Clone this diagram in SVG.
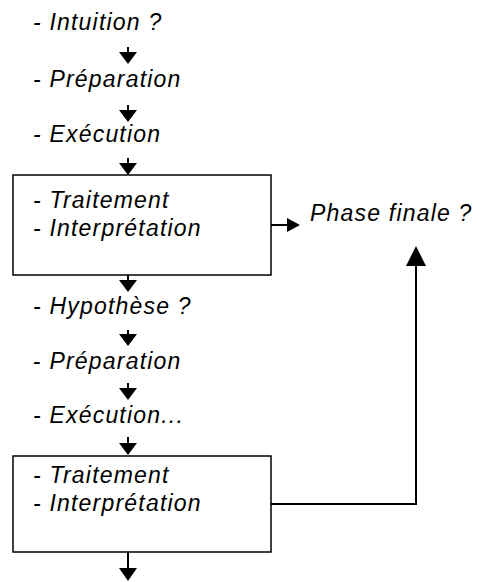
<svg xmlns="http://www.w3.org/2000/svg" width="483" height="582" viewBox="0 0 483 582">
<style>
.t{font-family:"Liberation Sans",Arial,sans-serif;font-style:italic;font-size:23px;letter-spacing:1.2px;fill:#000}
.box{fill:#fff;stroke:#000;stroke-width:1.5}
.ln{fill:none;stroke:#000;stroke-width:2}
.hd{fill:#000}
</style>
<rect width="483" height="582" fill="#fff"/>
<g id="connectors">
<line class="ln" x1="128" y1="47" x2="128" y2="54"/><polygon class="hd" points="119,52 137,52 128,64"/>
<line class="ln" x1="128" y1="105" x2="128" y2="112"/><polygon class="hd" points="119,110 137,110 128,122"/>
<line class="ln" x1="128" y1="158" x2="128" y2="165"/><polygon class="hd" points="119,163 137,163 128,175"/>
<line class="ln" x1="271" y1="225" x2="289" y2="225"/><polygon class="hd" points="287,218 287,232 300,225"/>
<line class="ln" x1="128" y1="275" x2="128" y2="282"/><polygon class="hd" points="119,280 137,280 128,292"/>
<line class="ln" x1="128" y1="330" x2="128" y2="336"/><polygon class="hd" points="119,334 137,334 128,346"/>
<line class="ln" x1="128" y1="383" x2="128" y2="390"/><polygon class="hd" points="119,388 137,388 128,400"/>
<line class="ln" x1="128" y1="437" x2="128" y2="445"/><polygon class="hd" points="119,443 137,443 128,455"/>
<polyline class="ln" points="271,504 416,504 416,264"/><polygon class="hd" points="406,266 426,266 416,246"/>
<line class="ln" x1="128" y1="552" x2="128" y2="570"/><polygon class="hd" points="119,568 137,568 128,581"/>
</g>
<g id="intuition"><text class="t" x="33" y="30">- Intuition ?</text></g>
<g id="preparation1"><text class="t" x="33" y="87">- Préparation</text></g>
<g id="execution1"><text class="t" x="33" y="142">- Exécution</text></g>
<g id="box1">
<rect class="box" x="13" y="175" width="258" height="100"/>
<text class="t" x="33" y="208">- Traitement</text>
<text class="t" x="33" y="236">- Interprétation</text>
</g>
<g id="phase-finale"><text class="t" x="310" y="221">Phase finale ?</text></g>
<g id="hypothese"><text class="t" x="33" y="314">- Hypothèse ?</text></g>
<g id="preparation2"><text class="t" x="33" y="369"><tspan style="font-style:normal">-</tspan> Préparation</text></g>
<g id="execution2"><text class="t" x="33" y="423">- Exécution...</text></g>
<g id="box2">
<rect class="box" x="13" y="456" width="258" height="96"/>
<text class="t" x="33" y="483">- Traitement</text>
<text class="t" x="33" y="511">- Interprétation</text>
</g>
</svg>
